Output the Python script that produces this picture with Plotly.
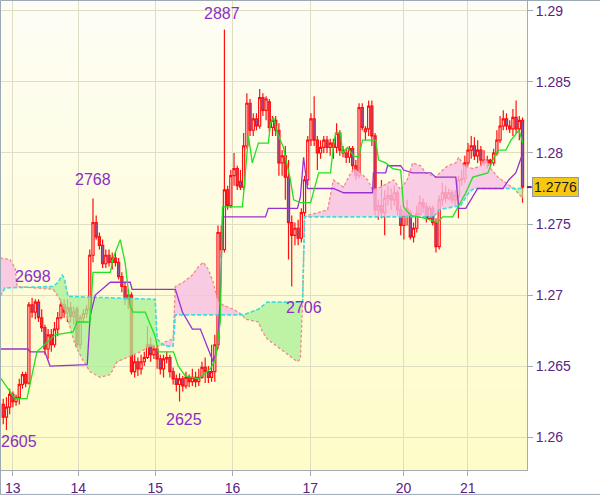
import numpy as np
import plotly.graph_objects as go

# Quotes are written as the last four digits, e.g. 2776 = 1.2776
day_labels = ["13", "14", "15", "16", "17", "20", "21"]
day_bars = [3.0, 23.4, 47.4, 71.5, 95.8, 124.9, 144.9]

opens = [
    2623, 2614, 2621, 2630, 2625, 2628, 2637, 2644, 2638, 2693,
    2688, 2695, 2684, 2677, 2662, 2672, 2665, 2676, 2684, 2693,
    2688, 2691, 2685, 2690, 2665, 2684, 2687, 2690, 2728, 2751,
    2741, 2735, 2722, 2728, 2723, 2726, 2723, 2713, 2706, 2697,
    2700, 2646, 2653, 2648, 2653, 2656, 2665, 2658, 2662, 2655,
    2648, 2655, 2656, 2646, 2641, 2637, 2641, 2636, 2642, 2639,
    2642, 2639, 2642, 2649, 2646, 2642, 2646, 2665, 2744, 2732,
    2774, 2763, 2784, 2789, 2780, 2776, 2805, 2835, 2816, 2824,
    2819, 2839, 2830, 2836, 2818, 2823, 2816, 2793, 2798, 2783,
    2751, 2742, 2747, 2740, 2758, 2781, 2809, 2824, 2809, 2800,
    2804, 2809, 2804, 2807, 2804, 2814, 2802, 2800, 2797, 2803,
    2791, 2784, 2832, 2815, 2817, 2833, 2812, 2760, 2763, 2758,
    2768, 2770, 2767, 2772, 2760, 2749, 2756, 2758, 2741, 2747,
    2757, 2765, 2762, 2754, 2761, 2751, 2734, 2767, 2772, 2768,
    2772, 2767, 2770, 2781, 2782, 2793, 2802, 2805, 2798, 2802,
    2795, 2793, 2795, 2793, 2800, 2809, 2819, 2824, 2819, 2817,
    2825, 2817, 2823,
]
highs = [
    2627, 2628, 2634, 2632, 2630, 2641, 2646, 2646, 2695, 2698,
    2697, 2697, 2690, 2679, 2676, 2676, 2681, 2688, 2697, 2697,
    2697, 2695, 2692, 2692, 2686, 2690, 2693, 2732, 2768, 2756,
    2744, 2739, 2732, 2732, 2730, 2730, 2726, 2716, 2709, 2704,
    2702, 2658, 2656, 2658, 2660, 2678, 2670, 2665, 2665, 2658,
    2658, 2660, 2658, 2649, 2644, 2645, 2643, 2646, 2644, 2648,
    2646, 2648, 2653, 2656, 2650, 2665, 2672, 2749, 2749, 2887,
    2777, 2788, 2800, 2791, 2788, 2814, 2842, 2838, 2828, 2828,
    2845, 2842, 2840, 2838, 2826, 2826, 2821, 2802, 2805, 2795,
    2756, 2751, 2753, 2761, 2784, 2812, 2828, 2840, 2812, 2809,
    2812, 2812, 2810, 2810, 2821, 2816, 2805, 2803, 2805, 2805,
    2795, 2835, 2835, 2819, 2837, 2837, 2814, 2767, 2781, 2774,
    2777, 2775, 2777, 2774, 2763, 2760, 2767, 2760, 2751, 2763,
    2770, 2768, 2765, 2763, 2763, 2754, 2770, 2779, 2777, 2775,
    2774, 2774, 2784, 2788, 2798, 2807, 2812, 2811, 2809, 2805,
    2802, 2798, 2796, 2803, 2816, 2826, 2830, 2828, 2823, 2831,
    2837, 2826, 2825,
]
lows = [
    2609, 2605, 2616, 2621, 2622, 2623, 2634, 2635, 2637, 2684,
    2683, 2681, 2674, 2658, 2655, 2660, 2663, 2671, 2683, 2684,
    2681, 2681, 2679, 2663, 2662, 2681, 2684, 2686, 2723, 2739,
    2732, 2719, 2719, 2720, 2718, 2720, 2711, 2702, 2693, 2690,
    2644, 2642, 2643, 2644, 2650, 2655, 2653, 2655, 2648, 2644,
    2642, 2652, 2642, 2637, 2632, 2625, 2632, 2634, 2635, 2636,
    2635, 2636, 2641, 2638, 2638, 2639, 2639, 2662, 2726, 2730,
    2760, 2761, 2777, 2774, 2774, 2774, 2803, 2812, 2812, 2816,
    2817, 2826, 2823, 2815, 2812, 2812, 2784, 2784, 2767, 2725,
    2706, 2735, 2735, 2737, 2754, 2777, 2805, 2805, 2788, 2796,
    2800, 2800, 2798, 2796, 2800, 2798, 2797, 2793, 2793, 2786,
    2781, 2782, 2816, 2809, 2812, 2805, 2756, 2753, 2754, 2742,
    2763, 2760, 2763, 2756, 2742, 2739, 2749, 2739, 2737, 2744,
    2756, 2758, 2751, 2753, 2749, 2730, 2732, 2763, 2765, 2767,
    2765, 2763, 2754, 2777, 2779, 2791, 2796, 2795, 2793, 2791,
    2791, 2789, 2791, 2791, 2798, 2807, 2816, 2816, 2814, 2812,
    2814, 2809, 2765,
]
closes = [
    2614, 2621, 2630, 2625, 2628, 2637, 2644, 2638, 2693, 2688,
    2695, 2684, 2677, 2662, 2672, 2665, 2676, 2684, 2693, 2688,
    2691, 2685, 2688, 2665, 2684, 2687, 2690, 2728, 2751, 2741,
    2735, 2722, 2728, 2723, 2726, 2723, 2713, 2706, 2697, 2700,
    2646, 2653, 2648, 2653, 2656, 2665, 2658, 2662, 2655, 2648,
    2655, 2656, 2646, 2641, 2637, 2641, 2636, 2642, 2639, 2642,
    2639, 2642, 2649, 2646, 2642, 2646, 2665, 2744, 2732, 2774,
    2763, 2784, 2789, 2777, 2776, 2805, 2835, 2816, 2824, 2819,
    2839, 2830, 2838, 2818, 2823, 2816, 2793, 2798, 2783, 2751,
    2742, 2747, 2740, 2758, 2781, 2809, 2824, 2809, 2800, 2804,
    2809, 2804, 2807, 2804, 2814, 2802, 2800, 2797, 2803, 2791,
    2784, 2832, 2818, 2817, 2833, 2812, 2760, 2763, 2758, 2768,
    2770, 2767, 2772, 2760, 2749, 2756, 2761, 2741, 2747, 2757,
    2765, 2762, 2754, 2761, 2751, 2734, 2767, 2772, 2768, 2772,
    2767, 2770, 2781, 2782, 2793, 2802, 2805, 2798, 2802, 2795,
    2793, 2795, 2793, 2800, 2809, 2819, 2824, 2819, 2817, 2825,
    2817, 2823, 2776,
]

# Ichimoku lines as (bar, quote) vertices
tenkan_t = [-1.0, 3.7, 7.4, 10.5, 16.2, 21.8, 23.0, 27.1, 28.0, 33.4, 34.3, 36.5, 38.0, 39.6,
            40.5, 44.3, 45.2, 47.4, 48.4, 53.1, 54.6, 56.8, 60.9, 64.6, 66.2, 67.7, 68.4, 74.6,
            74.9, 76.5, 77.7, 79.6, 82.7, 83.4, 84.3, 85.5, 87.4, 89.6, 90.6, 92.7, 95.9, 96.8,
            98.4, 102.1, 103.0, 103.7, 105.2, 105.9, 107.4, 109.3, 110.9, 112.1, 116.2, 117.1,
            119.3, 121.5, 124.0, 124.9, 127.1, 131.8, 135.5, 137.1, 140.2, 144.3, 146.5, 151.2,
            152.7, 154.3, 156.8, 158.4, 160.9, 162.1]
tenkan_q = [2642, 2627, 2627, 2660, 2672, 2674, 2681, 2681, 2716, 2716, 2726, 2739, 2723, 2692,
            2688, 2688, 2683, 2671, 2660, 2660, 2650, 2643, 2641, 2648, 2655, 2681, 2762, 2762,
            2769, 2812, 2793, 2807, 2807, 2821, 2825, 2814, 2804, 2781, 2767, 2765, 2765, 2772,
            2786, 2786, 2805, 2814, 2814, 2800, 2804, 2798, 2797, 2809, 2809, 2795, 2793, 2789,
            2788, 2762, 2756, 2754, 2751, 2755, 2755, 2772, 2783, 2786, 2795, 2802, 2802, 2809,
            2816, 2807]
kijun_t = [-1.0, 7.7, 8.4, 13.0, 14.6, 26.2, 27.1, 28.7, 33.4, 39.6, 40.2, 53.7, 55.9, 59.0,
           61.5, 63.0, 65.5, 66.8, 67.7, 68.4, 81.8, 82.7, 91.8, 92.7, 93.7, 94.9, 103.0, 106.2,
           115.2, 115.5, 119.3, 119.9, 124.0, 124.9, 127.7, 133.4, 134.9, 141.2, 142.1, 144.3,
           146.5, 148.0, 155.9, 157.7, 159.9, 162.1]
kijun_q = [2662, 2662, 2660, 2660, 2650, 2651, 2685, 2700, 2709, 2709, 2704, 2704, 2688, 2676,
           2676, 2667, 2653, 2662, 2697, 2755, 2755, 2761, 2761, 2769, 2797, 2775, 2775, 2772,
           2772, 2786, 2786, 2791, 2791, 2788, 2786, 2786, 2783, 2783, 2761, 2761, 2769, 2775,
           2775, 2781, 2786, 2800]
spanA_t = [-1.0, 0.55, 15.6, 17.1, 18.4, 19.0, 20.2, 47.4, 48.0, 50.5, 53.0, 53.7, 74.9, 79.6,
           82.4, 93.4, 94.0, 134.3, 135.9, 140.2, 142.7, 145.2, 146.8, 162.1]
spanA_q = [2699, 2705, 2706, 2709, 2714, 2712, 2699, 2697, 2669, 2664, 2664, 2686, 2686, 2690,
           2695, 2695, 2755, 2755, 2760, 2762, 2763, 2772, 2775, 2775]
spanB_t = [-1.0, 2.1, 3.7, 4.3, 15.6, 17.7, 20.2, 22.4, 24.6, 27.1, 30.2, 33.4, 35.5, 39.6,
           42.7, 45.9, 49.0, 50.5, 53.0, 53.7, 56.2, 59.0, 60.9, 62.4, 64.0, 65.5, 66.8, 68.4,
           71.8, 74.6, 75.5, 79.6, 80.9, 82.4, 86.5, 91.8, 92.7, 93.4, 94.0, 94.9, 101.2, 103.0,
           106.2, 107.7, 109.3, 111.5, 113.7, 115.2, 117.7, 119.9, 121.8, 124.0, 126.2, 127.7,
           130.2, 131.8, 134.9, 137.1, 138.7, 141.2, 142.1, 143.7, 146.5, 149.0, 150.5, 152.1,
           154.3, 156.8, 159.3, 162.1]
spanB_q = [2726, 2725, 2719, 2706, 2704, 2697, 2683, 2665, 2655, 2646, 2642, 2644, 2653, 2657,
           2660, 2664, 2664, 2667, 2669, 2706, 2709, 2714, 2720, 2723, 2718, 2709, 2697, 2693,
           2690, 2686, 2683, 2681, 2674, 2669, 2662, 2653, 2655, 2695, 2755, 2756, 2760, 2781,
           2776, 2783, 2789, 2786, 2781, 2774, 2776, 2779, 2781, 2774, 2782, 2793, 2791, 2786,
           2783, 2788, 2791, 2793, 2797, 2791, 2789, 2791, 2796, 2789, 2783, 2779, 2775, 2768]

# extreme labels: bar index, quote, above/below
label_bars = [69, 28, 9, 90, 55, 1]
label_quotes = [2887, 2768, 2698, 2706, 2625, 2605]
label_side = ["above", "above", "above", "below", "below", "below"]
last_quote = closes[-1]


def px(q):
    return [1 + v / 10000.0 for v in q] if isinstance(q, (list, tuple, np.ndarray)) else 1 + q / 10000.0


bars = list(range(len(closes)))
fig = go.Figure()

# ---- cloud fill (between span A and span B) ----
tt = np.arange(-1.0, 162.1 + 1e-9, 0.05)
a = np.interp(tt, spanA_t, spanA_q)
b = np.interp(tt, spanB_t, spanB_q)
up = a >= b
start = 0
n = len(tt)
for i in range(1, n + 1):
    if i == n or up[i] != up[start]:
        end = min(i + 1, n)
        seg = slice(start, end)
        xs = list(tt[seg]) + list(tt[seg][::-1])
        ys = list(a[seg]) + list(b[seg][::-1])
        fig.add_trace(go.Scatter(
            x=xs, y=px(ys), mode="lines", fill="toself",
            fillcolor="rgba(168,240,150,0.75)" if up[start] else "rgba(248,190,228,0.8)",
            line=dict(width=0), hoverinfo="skip"))
        start = i

fig.add_trace(go.Scatter(x=spanB_t, y=px(spanB_q), mode="lines",
                         line=dict(color="#f08a8a", width=1.3, dash="3px,2px"), hoverinfo="skip"))
fig.add_trace(go.Scatter(x=spanA_t, y=px(spanA_q), mode="lines",
                         line=dict(color="#3fdcdc", width=1.6, dash="4px,2px"), hoverinfo="skip"))

# ---- candles ----
fig.add_trace(go.Candlestick(
    x=bars, open=px(opens), high=px(highs), low=px(lows), close=px(closes),
    increasing=dict(line=dict(color="#ff1010", width=1.2), fillcolor="rgba(255,250,250,0.85)"),
    decreasing=dict(line=dict(color="#ff1010", width=1.2), fillcolor="#7a62b8"),
    whiskerwidth=0, hoverinfo="skip"))

# ---- tenkan / kijun ----
fig.add_trace(go.Scatter(x=kijun_t, y=px(kijun_q), mode="lines",
                         line=dict(color="#9b30d0", width=1.3), hoverinfo="skip"))
fig.add_trace(go.Scatter(x=tenkan_t, y=px(tenkan_q), mode="lines",
                         line=dict(color="#22e022", width=1.3), hoverinfo="skip"))

# ---- background gradient ----
shapes = []
nb = 40
top = np.array([254, 254, 246])
bot = np.array([254, 252, 200])
for k in range(nb):
    f = (k + 0.5) / nb
    c = top * (1 - f) + bot * f
    shapes.append(dict(type="rect", xref="paper", yref="paper", x0=0, x1=1,
                       y0=1 - (k + 1) / nb, y1=1 - k / nb + 0.001, layer="below",
                       line=dict(width=0), fillcolor="rgb(%d,%d,%d)" % tuple(c.astype(int))))
# outer frame
shapes.append(dict(type="rect", xref="paper", yref="paper", x0=-0.001, x1=1.1400,
                   y0=-0.0520, y1=1.0011, line=dict(color="#9aa8b4", width=1),
                   fillcolor="rgba(0,0,0,0)", layer="above"))
# current price tick
shapes.append(dict(type="line", xref="paper", yref="y", x0=1.0, x1=1.009,
                   y0=px(last_quote), y1=px(last_quote), line=dict(color="#5a2382", width=2)))

annotations = []
for bi, q, side in zip(label_bars, label_quotes, label_side):
    shift_y = {2887: 16, 2768: 19, 2698: 21, 2706: -21, 2625: -18, 2605: -12}[q]
    shift_x = {2887: -2, 2768: 0, 2698: 1, 2706: 12, 2625: 4, 2605: 13}[q]
    annotations.append(dict(x=bi, y=px(q), xref="x", yref="y", text=str(q), showarrow=False,
                            yshift=shift_y, xshift=shift_x,
                            font=dict(family="Liberation Sans", size=16, color="#8b2fc9")))
annotations.append(dict(x=1.0095, y=px(last_quote), xref="paper", yref="y", xanchor="left",
                        yanchor="middle", text="%.4f" % px(last_quote), showarrow=False,
                        bgcolor="#f6c812", bordercolor="#8b9aa6", borderwidth=1, borderpad=1,
                        font=dict(family="Liberation Sans", size=14, color="#1a1a1a")))

ytick_vals = [1.26, 1.265, 1.27, 1.275, 1.28, 1.285, 1.29]
ytick_text = ["1.26", "1.265", "1.27", "1.275", "1.28", "1.285", "1.29"]

fig.update_layout(
    width=600, height=497,
    margin=dict(l=1, r=73, t=1, b=25),
    paper_bgcolor="white", plot_bgcolor="#fefde6",
    showlegend=False, boxgap=0.05,
    shapes=shapes, annotations=annotations,
    font=dict(family="Liberation Sans", size=14, color="#5a2382"),
    xaxis=dict(range=[-0.7, 163.4], tickvals=day_bars, ticktext=day_labels,
               showgrid=True, gridcolor="#dedec4", gridwidth=1, zeroline=False,
               showline=True, linecolor="#a3abb3", ticks="outside", ticklen=5,
               tickcolor="#a3abb3", rangeslider=dict(visible=False),
               tickfont=dict(size=14, color="#5a2382")),
    yaxis=dict(range=[1.25768, 1.29070], side="right", tickvals=ytick_vals, ticktext=ytick_text,
               showgrid=True, gridcolor="#dedec4", gridwidth=1, zeroline=False,
               showline=True, linecolor="#a3abb3", ticks="outside", ticklen=5,
               tickcolor="#a3abb3", tickfont=dict(size=14, color="#5a2382")),
)

fig.write_html("out.html", config={"displayModeBar": False, "staticPlot": True},
               post_script="document.body.style.margin='0';document.body.style.overflow='hidden';")
